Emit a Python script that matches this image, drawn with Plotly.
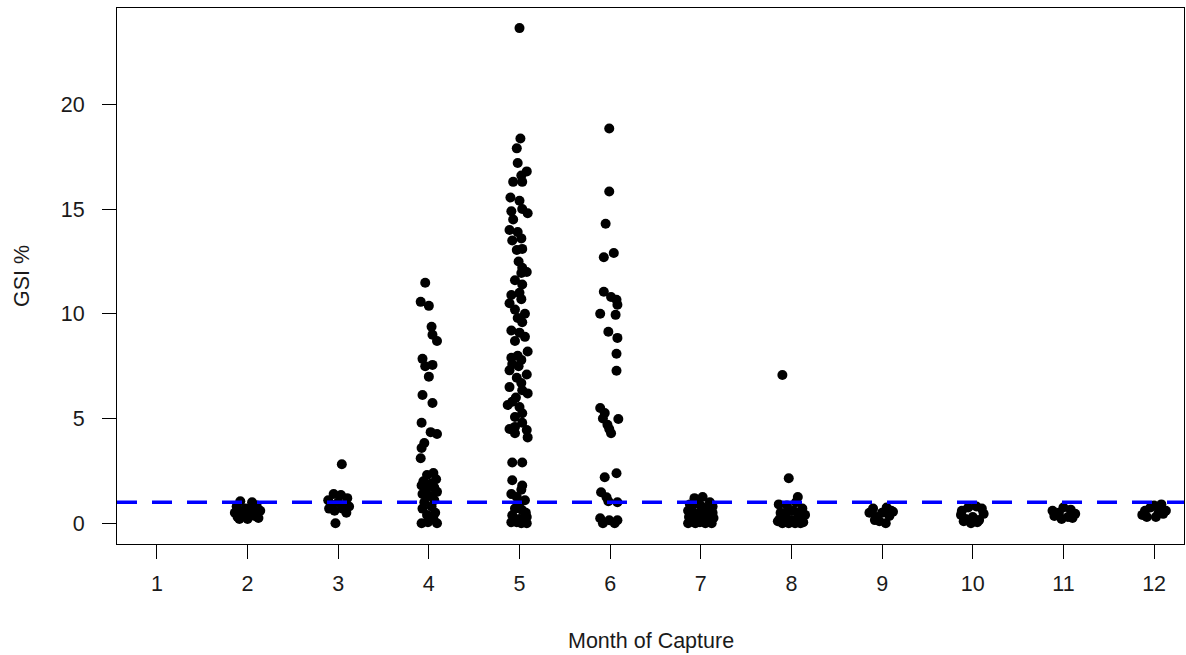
import plotly.graph_objects as go

# ---- data: per month, jitter offsets (months) and GSI values (%) ----
months = [1, 2, 3, 4, 5, 6, 7, 8, 9, 10, 11, 12]
month_labels = ["1", "2", "3", "4", "5", "6", "7", "8", "9", "10", "11", "12"]
y_ticks = [0, 5, 10, 15, 20]
threshold = 1.0

m2_off = [-0.08, 0.05, -0.12, 0.10, -0.02, 0.14, -0.14, 0.03, -0.06, 0.08, -0.11, 0.12, 0.00, -0.04, 0.06, -0.09, 0.10]
m2_gsi = [1.05, 1.00, 0.80, 0.85, 0.70, 0.60, 0.50, 0.55, 0.40, 0.35, 0.30, 0.25, 0.20, 0.60, 0.75, 0.20, 0.50]

m3_off = [0.04, -0.03, -0.05, 0.03, -0.11, 0.10, 0.00, -0.08, 0.12, 0.05, -0.04, 0.09, -0.10]
m3_gsi = [2.82, 0.00, 1.40, 1.35, 1.10, 1.20, 1.00, 0.90, 0.80, 0.70, 0.60, 0.50, 0.70]

m4_off = [-0.04, -0.09, 0.00, 0.03, 0.04, 0.09, -0.07, 0.04, -0.04, 0.00, -0.07, 0.04, -0.08, 0.02, 0.09,
          -0.05, -0.08, -0.09, 0.05, -0.02, 0.08, -0.06, 0.03, -0.08, 0.06, -0.03, 0.09, -0.07, 0.01, 0.06,
          -0.05, 0.03, -0.07, 0.07, -0.02, 0.05, -0.08, 0.09, -0.01]
m4_gsi = [11.48, 10.57, 10.38, 9.38, 9.00, 8.70, 7.85, 7.56, 7.50, 7.00, 6.12, 5.74, 4.80, 4.35, 4.26,
          3.83, 3.59, 3.10, 2.40, 2.30, 2.10, 2.00, 1.90, 1.80, 1.70, 1.60, 1.50, 1.40, 1.30, 1.10,
          1.00, 0.80, 0.70, 0.50, 0.40, 0.20, 0.00, 0.00, 0.05]

m5_off = [0.00, 0.01, -0.03, -0.02, 0.08, 0.02, -0.07, 0.03, -0.10, 0.00, 0.03, -0.09, 0.09, -0.07, -0.11,
          -0.02, -0.08, 0.02, 0.03, -0.03, -0.01, 0.03, 0.08, 0.02, -0.05, 0.03, -0.09, 0.02, -0.11, -0.05,
          0.03, -0.09, 0.00, -0.05, 0.09, -0.09, 0.02, -0.11, 0.08, -0.03, 0.02, -0.11, 0.03, 0.09, -0.08,
          -0.13, 0.00, 0.03, -0.05, 0.03, -0.05, 0.08, -0.11, -0.05, 0.09, -0.08, 0.03, -0.08, 0.03, 0.02,
          -0.03, 0.06, 0.00, -0.05, 0.03, -0.08, 0.08, -0.03, 0.02, 0.08, -0.09,
          -0.02, 0.06, -0.02, -0.01, -0.04, -0.08, 0.06, 0.00, 0.00, -0.09, 0.07]
m5_gsi = [23.64, 18.37, 17.90, 17.20, 16.80, 16.60, 16.30, 16.30, 15.55, 15.40, 15.00, 14.90, 14.80, 14.50, 14.00,
          13.90, 13.50, 13.60, 13.10, 13.05, 12.50, 12.20, 12.00, 11.95, 11.60, 11.40, 10.90, 10.70, 10.50, 10.20,
          9.60, 9.20, 9.10, 8.70, 8.20, 7.90, 7.80, 7.30, 7.10, 6.95, 6.70, 6.50, 6.35, 6.20, 5.80,
          5.65, 5.55, 5.25, 5.07, 4.80, 4.60, 4.45, 4.50, 4.30, 4.10, 2.90, 2.90, 2.05, 1.80, 1.60,
          1.25, 1.10, 0.95, 0.70, 0.62, 0.38, 0.30, 0.05, 0.00, 0.00, 0.05,
          9.80, 8.90, 8.00, 7.50, 6.00, 7.60, 10.00, 11.00, 0.20, 1.40, 0.50]

m6_off = [-0.01, -0.01, -0.05, 0.04, -0.07, -0.07, 0.01, 0.07, 0.08, -0.11, 0.06, -0.02, 0.08, 0.07, 0.07,
          -0.11, -0.06, 0.09, -0.03, 0.01, -0.08, -0.01, 0.07, -0.06, -0.10, -0.04, 0.08, -0.02, -0.11, -0.01,
          0.08, -0.08, 0.05]
m6_gsi = [18.85, 15.84, 14.30, 12.90, 12.70, 11.05, 10.80, 10.67, 10.43, 10.00, 9.95, 9.14, 8.85, 8.09, 7.28,
          5.50, 5.26, 4.98, 4.70, 4.30, 5.00, 4.50, 2.39, 2.20, 1.48, 1.24, 1.00, 1.05, 0.24, 0.14,
          0.14, 0.00, 0.00]

m7_off = [-0.07, 0.02, -0.12, 0.10, -0.03, 0.13, -0.14, 0.06, -0.08, 0.00, 0.11, -0.13, 0.04, -0.04, 0.14,
          -0.10, 0.08, -0.01, -0.14, 0.12, 0.05, -0.06, 0.01, -0.10, 0.09, -0.02, 0.13, -0.11, 0.03, -0.07]
m7_gsi = [1.20, 1.25, 0.90, 1.00, 0.95, 0.80, 0.60, 0.70, 0.50, 0.55, 0.45, 0.30, 0.35, 0.20, 0.25,
          0.10, 0.15, 0.05, 0.00, 0.00, 0.00, 0.00, 0.80, 0.75, 0.60, 0.40, 0.50, 0.45, 0.10, 0.25]

m8_off = [-0.10, -0.03, 0.07, -0.14, 0.05, -0.05, 0.12, -0.12, 0.02, 0.15, -0.08, 0.08, -0.15, 0.00,
          0.13, -0.10, 0.04, -0.03, 0.10, -0.06, 0.07, -0.13]
m8_gsi = [7.08, 2.15, 1.25, 0.90, 1.00, 0.85, 0.70, 0.50, 0.60, 0.40, 0.30, 0.25, 0.10, 0.15,
          0.05, 0.00, 0.00, 0.00, 0.00, 0.45, 0.50, 0.20]

m9_off = [-0.10, 0.05, -0.14, 0.10, 0.00, -0.06, 0.08, -0.03, 0.04, -0.08, 0.12]
m9_gsi = [0.70, 0.75, 0.50, 0.60, 0.50, 0.30, 0.35, 0.10, 0.00, 0.15, 0.55]

m10_off = [-0.12, 0.10, -0.05, 0.04, -0.13, 0.12, 0.00, -0.08, 0.07, -0.02, 0.05, -0.10]
m10_gsi = [0.60, 0.70, 0.75, 0.80, 0.40, 0.45, 0.30, 0.20, 0.15, 0.00, 0.05, 0.10]

m11_off = [-0.12, 0.00, 0.08, -0.05, 0.13, -0.10, 0.05, -0.02, 0.10]
m11_gsi = [0.60, 0.75, 0.65, 0.50, 0.45, 0.35, 0.30, 0.20, 0.25]

m12_off = [-0.10, 0.00, 0.08, -0.04, 0.13, -0.13, 0.05, -0.08, 0.10, 0.02]
m12_gsi = [0.60, 0.85, 0.90, 0.75, 0.60, 0.40, 0.50, 0.30, 0.45, 0.30]

groups = [(2, m2_off, m2_gsi), (3, m3_off, m3_gsi), (4, m4_off, m4_gsi), (5, m5_off, m5_gsi),
          (6, m6_off, m6_gsi), (7, m7_off, m7_gsi), (8, m8_off, m8_gsi), (9, m9_off, m9_gsi),
          (10, m10_off, m10_gsi), (11, m11_off, m11_gsi), (12, m12_off, m12_gsi)]

xs, ys = [], []
for m, offs, vals in groups:
    for o, v in zip(offs, vals):
        xs.append(m + o)
        ys.append(v)

FONT = "Liberation Sans, Arial, sans-serif"
FS = 21.5
TXT = "#1a1a1a"

fig = go.Figure()
fig.add_trace(go.Scatter(
    x=xs, y=ys, mode="markers",
    marker=dict(color="black", size=10, line=dict(width=0)),
    showlegend=False, hoverinfo="x+y"))

fig.add_shape(type="line", xref="paper", x0=0, x1=1, yref="y", y0=threshold, y1=threshold,
              line=dict(color="#0000FF", width=3.5, dash="20px,15px"))

fig.update_layout(
    width=1186, height=655,
    margin=dict(l=117, r=2, t=8, b=111),
    paper_bgcolor="white", plot_bgcolor="white",
    font=dict(family=FONT, size=FS, color=TXT),
    xaxis=dict(range=[0.56, 12.33], tickvals=months, ticktext=month_labels,
               showgrid=False, zeroline=False, showline=True, mirror=True,
               linecolor="black", linewidth=1, ticks="outside", ticklen=14,
               tickcolor="black", tickwidth=1, ticklabelstandoff=6,
               tickfont=dict(family=FONT, size=FS, color=TXT)),
    yaxis=dict(range=[-0.99, 24.6], tickvals=y_ticks,
               showgrid=False, zeroline=False, showline=True, mirror=True,
               linecolor="black", linewidth=1, ticks="outside", ticklen=14,
               tickcolor="black", tickwidth=1, ticklabelstandoff=13,
               tickfont=dict(family=FONT, size=FS, color=TXT)),
    annotations=[
        dict(text="Month of Capture", xref="paper", yref="paper", x=0.5, y=0,
             yshift=-97, xanchor="center", yanchor="middle", showarrow=False,
             font=dict(family=FONT, size=FS, color=TXT)),
        dict(text="GSI %", xref="paper", yref="paper", x=0, y=0.5, xshift=-95,
             textangle=-90, xanchor="center", yanchor="middle", showarrow=False,
             font=dict(family=FONT, size=FS, color=TXT)),
    ],
)

fig.write_html("out.html", config={"displayModeBar": False},
               post_script="document.body.style.margin='0';document.body.style.overflow='hidden';")
